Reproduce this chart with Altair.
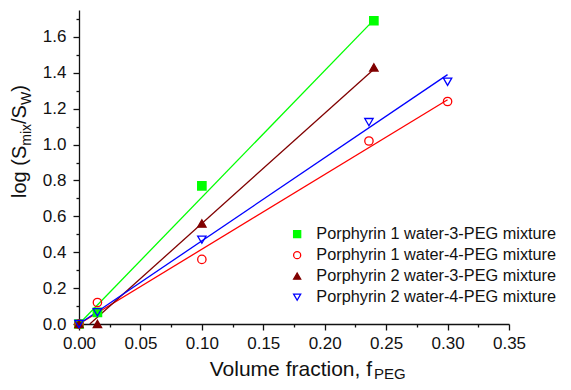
import altair as alt
import pandas as pd

FONT = "Liberation Sans"

series = [
    "Porphyrin 1 water-3-PEG mixture",
    "Porphyrin 1 water-4-PEG mixture",
    "Porphyrin 2 water-3-PEG mixture",
    "Porphyrin 2 water-4-PEG mixture",
]
colors = ["#00ff00", "#ff0000", "#800000", "#0000ff"]
fills = ["#00ff00", "transparent", "#800000", "transparent"]
shapes = ["square", "circle", "triangle-up", "triangle-down"]

# measured points
p1w3_x = [0.0, 0.015, 0.10, 0.24]
p1w3_y = [0.0, 0.065, 0.77, 1.69]
p1w4_x = [0.0, 0.015, 0.10, 0.236, 0.30]
p1w4_y = [0.0, 0.12, 0.36, 1.02, 1.24]
p2w3_x = [0.0, 0.015, 0.10, 0.24]
p2w3_y = [0.0, 0.0, 0.56, 1.43]
p2w4_x = [0.0, 0.015, 0.10, 0.236, 0.30]
p2w4_y = [0.0, 0.065, 0.47, 1.125, 1.35]

# fitted lines (end points)
fit_p1w3_x = [0.0, 0.24]
fit_p1w3_y = [0.0, 1.695]
fit_p1w4_x = [0.0, 0.30]
fit_p1w4_y = [0.0, 1.25]
fit_p2w3_x = [0.0088, 0.24]
fit_p2w3_y = [0.0, 1.42]
fit_p2w4_x = [0.0, 0.30]
fit_p2w4_y = [0.0, 1.39]

x_ticks = [round(i * 0.025, 3) for i in range(15)]
y_ticks = [round(i * 0.1, 1) for i in range(18)]

rows = []
for s, xs, ys in zip(series, [p1w3_x, p1w4_x, p2w3_x, p2w4_x], [p1w3_y, p1w4_y, p2w3_y, p2w4_y]):
    for a, b in zip(xs, ys):
        rows.append({"series": s, "x": a, "y": b})
pts = pd.DataFrame(rows)

frows = []
for s, xs, ys in zip(series, [fit_p1w3_x, fit_p1w4_x, fit_p2w3_x, fit_p2w4_x],
                     [fit_p1w3_y, fit_p1w4_y, fit_p2w3_y, fit_p2w4_y]):
    for a, b in zip(xs, ys):
        frows.append({"series": s, "x": a, "y": b})
fits = pd.DataFrame(frows)

xscale = alt.Scale(domain=[0, 0.35], nice=False, zero=False)
yscale = alt.Scale(domain=[0, 1.75], nice=False, zero=False)

xaxis = alt.Axis(
    values=x_ticks, title=None, grid=False,
    labelExpr="round(datum.value*1000) % 50 == 0 ? format(datum.value, '.2f') : ''",
    tickSize={"condition": {"test": "round(datum.value*1000) % 50 == 0", "value": 6}, "value": 3},
    labelOverlap=False, labelFlush=False, labelFont=FONT, labelFontSize=17,
    labelColor="#111111", labelPadding=5, domainColor="#111111", tickColor="#111111",
    domainWidth=1.3, tickWidth=1.3,
)
yaxis = alt.Axis(
    values=y_ticks, title=None, grid=False,
    labelExpr="round(datum.value*10) % 2 == 0 ? format(datum.value, '.1f') : ''",
    tickSize={"condition": {"test": "round(datum.value*10) % 2 == 0", "value": 6}, "value": 3},
    labelOverlap=False, labelFlush=False, labelFont=FONT, labelFontSize=17,
    labelColor="#111111", labelPadding=7, domainColor="#111111", tickColor="#111111",
    domainWidth=1.3, tickWidth=1.3,
)

leg = alt.Legend(
    title=None, orient="none", legendX=210, legendY=216, padding=0,
    labelFont=FONT, labelFontSize=16.3, labelColor="#111111", labelOffset=11,
    symbolSize=50, symbolStrokeWidth=1.3, rowPadding=4, labelLimit=400,
)

# lines: colour scale with a reversed domain so it stays separate from the legend
rev_series = series[::-1]
rev_colors = colors[::-1]
lines = alt.Chart(fits).mark_line(strokeWidth=1.3).encode(
    x=alt.X("x:Q", scale=xscale, axis=xaxis),
    y=alt.Y("y:Q", scale=yscale, axis=yaxis),
    stroke=alt.Stroke("series:N", scale=alt.Scale(domain=rev_series, range=rev_colors), legend=None),
    detail="series:N",
)

points = alt.Chart(pts).mark_point(filled=False, strokeWidth=1.3, opacity=1).encode(
    x=alt.X("x:Q", scale=xscale, axis=xaxis),
    y=alt.Y("y:Q", scale=yscale, axis=yaxis),
    color=alt.Color("series:N", scale=alt.Scale(domain=series, range=colors), legend=leg),
    fill=alt.Fill("series:N", scale=alt.Scale(domain=series, range=fills), legend=leg),
    shape=alt.Shape("series:N", scale=alt.Scale(domain=series, range=shapes), legend=leg),
    size=alt.value(70),
)


def piece(text, x, y, size, angle=0, align="left"):
    return alt.Chart(alt.Data(values=[{}])).mark_text(
        text=text, angle=angle, align=align, baseline="alphabetic",
        fontSize=size, font=FONT, color="#111111",
    ).encode(x=alt.value(x), y=alt.value(y))


# y-axis title with subscripts: log (S_mix/S_W)
yt = []
ypos = 188
for txt, sz, sub in [("log (S", 20, False), ("mix", 14, True), ("/S", 20, False), ("W", 14, True), (")", 20, False)]:
    w = {"log (S": 2.612, "mix": 1.555, "/S": 0.945, "W": 0.944, ")": 0.333}[txt] * sz
    yt.append(piece(txt, -48 if sub else -53, ypos, sz, angle=270))
    ypos -= w

# x-axis title with subscript: Volume fraction, f_PEG
xt = [
    piece("Volume fraction, f", 293, 366, 21, align="right"),
    piece("PEG", 295, 368.5, 15, align="left"),
]

chart = alt.layer(lines, points, *yt, *xt).properties(
    width=430, height=314,
    autosize=alt.AutoSizeParams(type="none"),
    padding={"left": 71, "top": 2, "right": 54, "bottom": 58},
).configure_view(stroke=None)

chart.save("out.html", embed_options={"renderer": "svg", "actions": False})
